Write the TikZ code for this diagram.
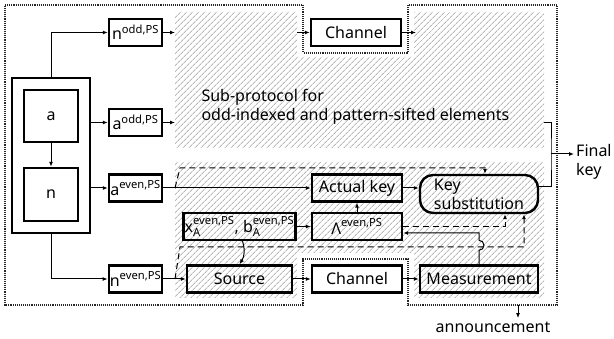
\documentclass[tikz,border=0pt]{standalone}
\usepackage{amsmath}
\usepackage{fontspec}
\setmainfont{Noto Sans}
\usetikzlibrary{arrows.meta,patterns.meta}
\newcommand{\sps}[2]{$\text{#1}^{\text{#2}}$}
\newcommand{\spsA}[2]{$\text{#1}^{\text{#2}}_{\text{A}}$}
\tikzset{
  every node/.style={font=\fontsize{16}{19}\selectfont},
  blk/.style={draw, line width=2.4pt, inner sep=1pt, minimum height=27pt},
  arr/.style={-{Latex[length=5pt,width=4pt]}, line width=1pt},
  dsh/.style={dash pattern=on 6pt off 4pt, line width=1pt},
  bnd/.style={densely dotted, line width=1.1pt, black!85},
  hatch/.style={pattern={Lines[angle=45,distance=4pt,line width=1pt]}, pattern color=black!28}
}
\begin{document}
\begin{tikzpicture}[x=1pt,y=-1pt]
    \useasboundingbox (0,0) rectangle (614,339);
    % hatched sub-protocols
    \fill[hatch] (175,12) -- (297,12) -- (297,57) -- (414,57) -- (414,12) -- (544,12) -- (544,148) -- (175,148) -- cycle;
    \fill[hatch] (175,162) -- (544,162) -- (544,298) -- (414,298) -- (414,253) -- (297,253) -- (297,298) -- (175,298) -- cycle;
    % lab boundary
    \draw[bnd] (5,5) -- (303,5) -- (303,53) -- (408,53) -- (408,5) -- (557,5) -- (557,305) -- (408,305) -- (408,259) -- (303,259) -- (303,305) -- (5,305) -- cycle;
    % input
    \node[blk, minimum width=78pt, minimum height=155pt] (all) at (51,155.5) {};
    \node[blk, minimum width=54pt, minimum height=52pt] (a) at (51,116) {a};
    \node[blk, minimum width=54pt, minimum height=53pt] (n) at (51,194.5) {n};
    % split
    \node[blk, minimum width=53pt] (nodd) at (135.5,32.5) {\sps{n}{odd,PS}};
    \node[blk, minimum width=53pt] (aodd) at (135.5,122.5) {\sps{a}{odd,PS}};
    \node[blk, minimum width=53pt] (aeven) at (135.5,188) {\sps{a}{even,PS}};
    \node[blk, minimum width=53pt] (neven) at (135.5,279) {\sps{n}{even,PS}};
    % odd part
    \node[blk, minimum width=90pt] (chodd) at (356,32.5) {Channel};
    \node[align=left, anchor=west] (subtxt) at (198,107) {Sub-protocol for\\odd-indexed and pattern-sifted elements};
    % even part
    \node[blk, minimum width=90pt] (actual) at (357,188) {Actual key};
    \node[blk, minimum width=118pt, minimum height=38pt, rounded corners=13pt, align=left] (keysub) at (479,194) {Key\\substitution};
    \node[blk, minimum width=105pt] (xb) at (239.5,226.5) {\spsA{x}{even,PS}, \spsA{b}{even,PS}};
    \node[blk, minimum width=90pt] (lam) at (357,226.5) {\sps{Λ}{even,PS}};
    \node[blk, minimum width=105pt] (source) at (239.5,279) {Source};
    \node[blk, minimum width=90pt] (cheven) at (357,279) {Channel};
    \node[blk, minimum width=118pt] (meas) at (479,279) {Measurement};
    % outputs
    \node[align=left, anchor=west, inner sep=2pt] (final) at (574,162) {Final\\key};
    \node (ann) at (493,327) {announcement};
    % free ends
    \coordinate (nodd-end) at (175,32.5);
    \coordinate (aodd-end) at (175,122.5);
    \coordinate (ch-in) at (297,32.5);
    \coordinate (ch-out) at (416,32.5);
    \coordinate (sub-out) at (544,123);
    \coordinate (tap-a) at (175,188);
    \coordinate (tap-n) at (175,279);
    \coordinate (fk) at (551,154);
    \coordinate (ann-from) at (518,305);
    % connectors
    \draw[arr] (all.north) |- (nodd.west);
    \draw[arr] (all.east |- aodd.west) -- (aodd.west);
    \draw[arr] (all.east |- aeven.west) -- (aeven.west);
    \draw[arr] (all.south) |- (neven.west);
    \draw[arr] (a.south) -- (n.north);
    \draw[arr] (nodd.east) -- (nodd-end);
    \draw[arr] (aodd.east) -- (aodd-end);
    \draw[arr] (ch-in) -- (chodd.west);
    \draw[arr] (chodd.east) -- (ch-out);
    \draw[arr] (aeven.east) -- (actual.west);
    \draw[arr] (actual.east) -- (actual.east -| keysub.west);
    \draw[arr] (xb.east) -- (lam.west);
    \draw[arr] (lam.north) -- (actual.south);
    \draw[arr] ([xshift=3pt]xb.south) to[bend left=25] (source.north);
    \draw[arr] (neven.east) -- (source.west);
    \draw[arr] (source.east) -- (cheven.west);
    \draw[arr] (cheven.east) -- (meas.west);
    \draw[arr] (meas.north) -- ++(0,-14) arc[start angle=90, end angle=-90, radius=5] |- ([yshift=-6.5pt]lam.east);
    % announced data
    \draw[dsh, arr] (tap-a) -- ++(5,-20) -| ([xshift=6pt]keysub.north);
    \draw[dsh, arr] (lam.east) -| ([xshift=26pt]keysub.south);
    \draw[dsh, arr] (tap-n) -- ++(5,-32) -| ([xshift=45pt]keysub.south);
    % final key
    \draw[line width=1pt] (sub-out) -| (fk) |- ([yshift=7pt]keysub.east);
    \draw[arr] (fk) -- (fk -| final.west);
    \draw[arr] (ann-from) -- (ann-from |- ann.north);
\end{tikzpicture}
\end{document}
